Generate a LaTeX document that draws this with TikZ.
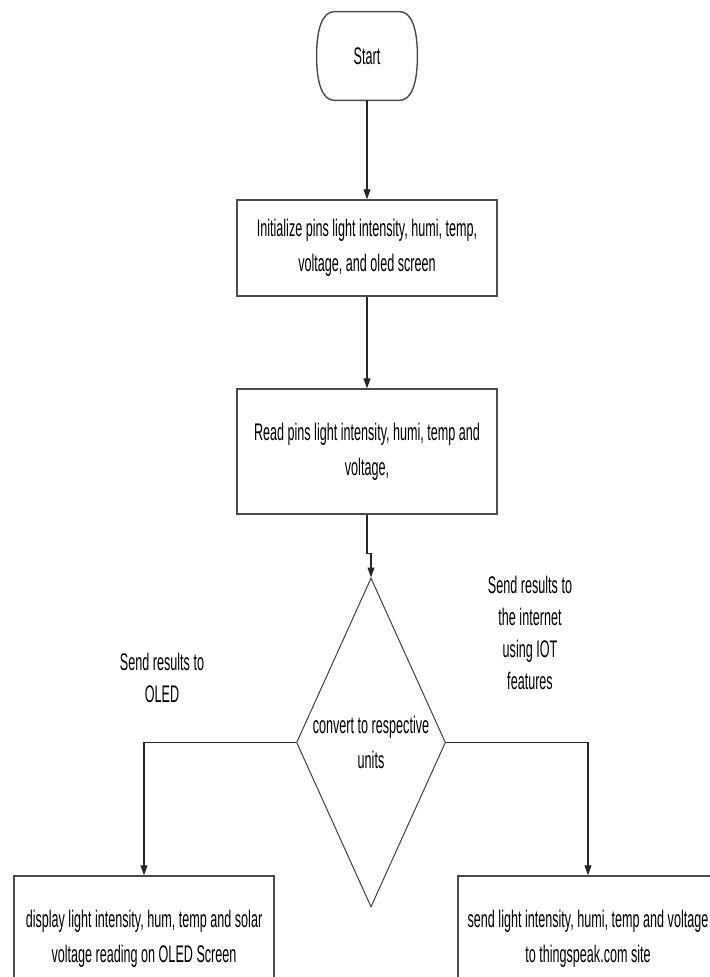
\documentclass[tikz,border=0pt]{standalone}
\usepackage{fontspec}
\setmainfont[FakeStretch=0.525]{Liberation Sans}
\usetikzlibrary{shapes.geometric,arrows.meta}

\begin{document}
\begin{tikzpicture}[
  x=0.5pt, y=-0.5pt,
  every node/.style={font=\fontsize{12}{17.5}\selectfont, align=center, inner sep=0pt},
  box/.style={rectangle, draw=black!70, line width=0.7pt, fill=white, minimum width=130pt},
  term/.style={rectangle, minimum width=50pt, minimum height=44pt},
  termline/.style={draw=black!70, line width=0.7pt},
  decision/.style={diamond, draw=black!75, line width=0.5pt, minimum width=74.5pt, minimum height=164.5pt},
  note/.style={font=\fontsize{12}{16}\selectfont},
  arr/.style={draw=black!85, line width=0.6pt, -{Triangle[length=5pt,width=3.5pt]}}
]
\clip (0,0) rectangle (710,977);
\node[term] (start) at (367,56) {Start};
% outline of the start terminal, flat top and bottom, bulging sides
\draw[termline] ([xshift=-9pt]start.north east) .. controls +(6pt,0) and +(0,14pt) .. (start.east)
  .. controls +(0,-14pt) and +(6pt,0) .. ([xshift=-9pt]start.south east)
  -- ([xshift=9pt]start.south west) .. controls +(-6pt,0) and +(0,-14pt) .. (start.west)
  .. controls +(0,14pt) and +(-6pt,0) .. ([xshift=9pt]start.north west) -- cycle;
\node[box, minimum height=48pt] (init) at (367,248) {Initialize pins light intensity, humi, temp,\\voltage, and oled screen};
\node[box, minimum height=62.5pt] (read) at (367,451.5) {Read pins light intensity, humi, temp and\\voltage,};
\node[decision, label={[align=center]center:convert to respective\\units}] (conv) at (371,742.5) {};
\node[box, minimum height=62.5pt] (oled) at (144,938.5) {display light intensity, hum, temp and solar\\voltage reading on OLED Screen};
\node[box, minimum height=62.5pt] (cloud) at (588,938.5) {send light intensity, humi, temp and voltage\\to thingspeak.com site};
\node[note] (noteoled) at (162,678) {Send results to\\OLED};
\node[note] (notecloud) at (530,633) {Send results to\\the internet\\using IOT\\features};

\draw[arr] (start) -- (init);
\draw[arr] (init) -- (read);
\draw[arr] (read.south) -- ++(0,39) -| (conv.north);
\draw[arr] (conv.west) -| (oled.north);
\draw[arr] (conv.east) -| (cloud.north);
\end{tikzpicture}
\end{document}
